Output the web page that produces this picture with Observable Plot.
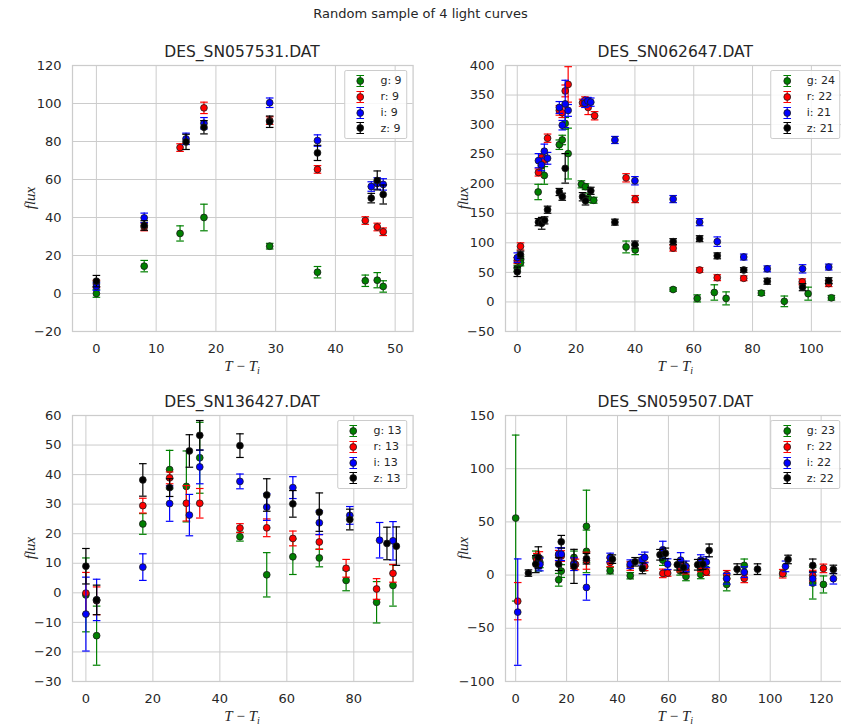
<!DOCTYPE html>
<html>
<head>
<meta charset="utf-8">
<script src="https://cdn.jsdelivr.net/npm/d3@7"></script>
<script src="https://cdn.jsdelivr.net/npm/@observablehq/plot@0.6"></script>
<style>
html, body { margin: 0; padding: 0; background: #fff; }
#fig { position: relative; width: 841px; height: 727px; overflow: hidden; font-family: "DejaVu Sans", sans-serif; color: #262626; background: #fff; }
.lbl { position: absolute; white-space: nowrap; line-height: 1; }
.legend { position: absolute; width: max-content; white-space: nowrap; background: rgba(255,255,255,0.85); border: 1px solid #cccccc; border-radius: 2px; padding: 1.8px 4.4px; box-sizing: border-box; }
.legend .row { display: flex; align-items: center; height: 15.9px; font-size: 11px; color: #262626; white-space: nowrap; }
.legend .row svg { display: block; margin-right: 8.8px; flex: none; }
.math { font-family: "Liberation Serif", "DejaVu Serif", serif; font-style: italic; font-size: 15px; color: #262626; }
</style>
</head>
<body>
<div id="fig"></div>
<script>
// ---------------- data: [T - Ti, flux, flux error] ----------------
const bandNames = ["g", "r", "i", "z"];
const bandColors = ["#008000", "#ff0000", "#0000ff", "#000000"];

// DES_SN057531.DAT
const sn057531_g = [[0,0,2],[8,14.4,3],[14,31.6,4],[18,40,7],[29,24.9,1.5],[37,11.2,3],[45,6.7,3],[47,7,4],[48,3.7,3]];
const sn057531_r = [[0,5,2],[8,35,2],[14,76.8,2],[18,97.7,3],[29,91,2],[37,65.3,2],[45,38.4,2],[47,35,2],[48,32.5,2]];
const sn057531_i = [[0,3.7,2],[8,39.8,2.5],[15,81.4,3],[18,89.6,3],[29,100.4,2.5],[37,80.5,3],[46,56.3,2.5],[47,57.9,3],[48,57.4,3]];
const sn057531_z = [[0,6.5,3],[8,35.8,2.5],[15,79.8,4],[18,87.5,3.5],[29,90.4,3],[37,74,4],[46,50.2,2.5],[47,59.5,5],[48,52.1,5]];

// DES_SN062647.DAT
const sn062647_g = [[0,57,5],[1.1,72,5],[1.1,66,5],[7.1,186,13],[8.2,230,10],[9.2,214,15],[14.3,266,8],[15.3,274,8],[16.3,302,10],[17.3,251,43],[21.8,199,6],[23.2,195,5],[24.1,176,8],[26,172,5],[37,93,10],[40.1,88,8],[53,21,3],[61.2,6,6],[67,16,13],[71,6,11],[83,15,4],[90.8,1,9],[98.9,14,11],[106.8,7,4]];
const sn062647_r = [[0,70,5],[1.1,94,6],[7.2,219,6],[8.2,244,7],[9.2,240,7],[10.3,277,7],[14.3,324,8],[15.3,320,8],[16.3,357,10],[17.3,368,30],[22.2,337,6],[23,341,6],[24.1,329,12],[26.3,315,7],[37,210,7],[40.1,174,6],[53,91,5],[62,54,4],[68,41,5],[77,40,4],[96.9,34,5],[105.9,31,5]];
const sn062647_i = [[0,75,8],[7.2,239,12],[8.2,232,10],[9.2,255,12],[10.3,243,10],[14.3,329,10],[15.3,299,8],[16.3,335,40],[17.3,324,10],[23,336,7],[24,340,6],[25,338,7],[33.2,274,6],[40,205,7],[53,174,6],[62,135,6],[68,102,8],[77,76,5],[85,56,5],[97,56,7],[105.9,59,5]];
const sn062647_z = [[0,51,8],[1.1,80,6],[7.2,135,6],[8.3,133,10],[9.3,138,6],[10.3,156,6],[14.3,186,6],[15.3,178,6],[16.3,226,25],[22.2,178,7],[23.2,171,7],[25,188,6],[33.2,135,5],[40,97,6],[53,102,5],[62,107,5],[68,78,5],[77,54,4],[85,35,5],[97,25,6],[105.9,36,5]];

// DES_SN136427.DAT
const sn136427_g = [[0,-0.7,12.5],[3.2,-14.5,10],[17,23.3,3.5],[25,41.7,6.5],[30,36,12],[34,45.7,12],[46,19,1.5],[54,6.1,7.5],[61.8,12.2,6],[69.7,11.8,3],[77.7,4.2,3.5],[86.8,-3.2,7],[91.7,2.5,7]];
const sn136427_r = [[0,-0.1,7],[3.2,-2.7,4.7],[17,29.5,2.5],[25,38.9,2],[30,30.3,6],[34,30.3,5],[46,21.9,1.5],[54,22,3],[61.8,18.4,2.5],[69.7,17.2,2.5],[77.7,8.3,3],[86.8,1.3,3.5],[91.7,6.6,3]];
const sn136427_i = [[0,-7.2,12.5],[3.2,-2.4,7],[17,8.7,4.5],[25,30.2,6],[30.9,26.3,7],[34,42.6,5.7],[46,37.7,2.5],[54,29,4.5],[61.8,35.6,3.7],[69.7,23.7,4],[78.8,26.2,3],[87.7,17.8,6],[91.7,17.6,6.5]];
const sn136427_z = [[0,9,6],[3.2,-2.4,5],[17,38.2,5.5],[25,35.6,3],[30.9,48,5.5],[34,53.3,5],[46,49.8,4],[54,33.1,5.5],[61.8,30.1,4.5],[69.7,27.3,6.5],[78.8,24.8,3.5],[89.9,16.7,5.5],[92.7,15.8,6.5]];

// DES_SN059507.DAT
const sn059507_g = [[0,53.6,78],[7.9,16.6,6],[8.9,8.8,5],[9.5,12,5],[16.9,-4.4,6],[17.9,3.8,6],[22.9,16.6,6],[27.8,22.3,20],[27.8,45.8,34],[37.1,4.1,3],[45,-0.6,3],[50.2,8,4],[57.8,14.1,5],[64.6,4,4],[65.5,6,4],[66.9,-1.3,4],[72.7,0.6,4],[74.5,4,4],[82.9,-8.8,6],[89.8,9.1,6],[105,2,3],[116.7,-7.5,15],[120.9,-8.8,8]];
const sn059507_r = [[0.8,-24.5,17.5],[8.3,14.4,6],[9.3,16,6],[16.9,18.2,5],[17.9,17.9,5],[22.9,11.3,5],[23.5,10,5],[27.8,13.5,8],[37.1,11.9,4],[45,8.5,4],[50.7,8.2,4],[57.8,1.6,4],[59.7,1.9,3],[64.6,7,4],[66.9,5,4],[72.7,7.2,4],[74.9,2.8,3],[82.9,0.3,4],[89.8,-3.1,4],[104.9,1.3,4],[116.7,-0.5,5],[120.9,6.3,4]];
const sn059507_i = [[0.8,-34.8,50],[8.9,11.9,6],[9.5,10,6],[16.9,19.7,6],[17.9,19.7,6],[22.9,10.3,6],[27.8,-11.6,12],[37.1,16.6,4],[45,10.3,4],[49.6,14.4,5],[50.7,16.6,5],[57.8,23.8,8],[59.7,10.3,5],[64.8,14.1,7],[66.9,8.2,5],[72.7,14.1,5],[74.9,12.2,5],[82.9,-3.4,5],[89.8,2.8,5],[106,8.2,5],[116.7,-3.4,6],[124.8,-3.4,5]];
const sn059507_z = [[5,1.9,3],[7.9,10.3,8],[8.9,16.6,10],[16.9,10.3,6],[17.9,31.3,6],[22.9,8.2,16],[27.8,15.4,5],[38,15,4],[46.9,12.5,4],[49.8,6.3,5],[56.7,19.1,5],[58.8,20.4,5],[63.5,9.7,5],[65.9,7.2,5],[71.5,9.7,5],[73.5,10.3,5],[76,23.2,6],[87,5.6,5],[95,5.6,5],[107,14.7,4],[116.7,9.1,6],[124.8,5.3,4]];

// tick labels
const p1XTicks = [0,10,20,30,40,50];
const p1YTicks = [-20,0,20,40,60,80,100,120];
const p2XTicks = [0,20,40,60,80,100];
const p2YTicks = [-50,0,50,100,150,200,250,300,350,400];
const p3XTicks = [0,20,40,60,80];
const p3YTicks = [-30,-20,-10,0,10,20,30,40,50,60];
const p4XTicks = [0,20,40,60,80,100,120];
const p4YTicks = [-100,-50,0,50,100,150];

const suptitle = "Random sample of 4 light curves";
const panelTitles = ["DES_SN057531.DAT", "DES_SN062647.DAT", "DES_SN136427.DAT", "DES_SN059507.DAT"];

// ---------------- layout ----------------
const W = 340.6, H = 266;
const mL = 50, mR = 2, mT = 2, mB = 30;
const panels = [
  {title: panelTitles[0], bands: [sn057531_g, sn057531_r, sn057531_i, sn057531_z], xTicks: p1XTicks, yTicks: p1YTicks, L: 71.7, T: 65},
  {title: panelTitles[1], bands: [sn062647_g, sn062647_r, sn062647_i, sn062647_z], xTicks: p2XTicks, yTicks: p2YTicks, L: 505, T: 65},
  {title: panelTitles[2], bands: [sn136427_g, sn136427_r, sn136427_i, sn136427_z], xTicks: p3XTicks, yTicks: p3YTicks, L: 71.7, T: 415},
  {title: panelTitles[3], bands: [sn059507_g, sn059507_r, sn059507_i, sn059507_z], xTicks: p4XTicks, yTicks: p4YTicks, L: 505, T: 415}
];

const fig = document.getElementById("fig");
const cap = {draw(ctx, size) { const w = Math.sqrt(size / Math.PI); ctx.moveTo(-w, 0); ctx.lineTo(w, 0); }};

function addLabel(html, cls, x, y, extra) {
  const d = document.createElement("div");
  d.className = "lbl " + (cls || "");
  d.innerHTML = html;
  d.style.left = x + "px";
  d.style.top = y + "px";
  d.style.transform = "translate(-50%,-50%)" + (extra || "");
  fig.appendChild(d);
  return d;
}

const st = addLabel(suptitle, "", 420.5, 12.5);
st.style.fontSize = "13px";

panels.forEach(p => {
  const allX = p.bands.flat().map(d => d[0]);
  const xDomain = [-4, d3.max(allX) + 5];
  const yDomain = d3.extent(p.yTicks);
  const marks = [
    Plot.ruleX(p.xTicks, {stroke: "#cccccc", strokeWidth: 1}),
    Plot.ruleY(p.yTicks, {stroke: "#cccccc", strokeWidth: 1}),
    Plot.frame({stroke: "#cccccc", strokeWidth: 1.25})
  ];
  p.bands.forEach((data, k) => {
    const col = bandColors[k];
    marks.push(Plot.ruleX(data, {x: d => d[0], y1: d => d[1] - d[2], y2: d => d[1] + d[2], stroke: col, strokeWidth: 1.2}));
    marks.push(Plot.dot(data, {x: d => d[0], y: d => d[1] + d[2], symbol: cap, r: 3.8, stroke: col, strokeWidth: 1.2, fill: "none"}));
    marks.push(Plot.dot(data, {x: d => d[0], y: d => d[1] - d[2], symbol: cap, r: 3.8, stroke: col, strokeWidth: 1.2, fill: "none"}));
    marks.push(Plot.dot(data, {x: d => d[0], y: d => d[1], r: 3.4, fill: col, stroke: "#1a1a1a", strokeWidth: 0.8}));
  });
  const svg = Plot.plot({
    width: W + mL + mR,
    height: H + mT + mB,
    marginLeft: mL, marginRight: mR, marginTop: mT, marginBottom: mB,
    x: {domain: xDomain, ticks: p.xTicks, tickSize: 0, tickPadding: 12, label: null},
    y: {domain: yDomain, ticks: p.yTicks, tickSize: 0, tickPadding: 11, label: null},
    style: {fontFamily: "DejaVu Sans, sans-serif", fontSize: "13px", color: "#262626", background: "transparent", maxWidth: "none", overflow: "visible", position: "absolute", left: (p.L - mL) + "px", top: (p.T - mT) + "px"},
    marks
  });
  fig.appendChild(svg);

  // title
  const t = addLabel(p.title, "", p.L + W / 2, p.T - 12);
  t.style.fontSize = "15.5px";
  // axis labels
  addLabel("flux", "math", p.L - 42, p.T + H / 2, " rotate(-90deg)");
  addLabel("T&thinsp;&minus;&thinsp;T<sub style=\"font-size:10px;vertical-align:-3px\">i</sub>", "math", p.L + W / 2, p.T + H + 36);

  // legend
  const lg = document.createElement("div");
  lg.className = "legend";
  lg.style.left = (p.L + W - 5.3) + "px";
  lg.style.top = (p.T + 5) + "px";
  lg.style.transform = "translateX(-100%)";
  p.bands.forEach((data, k) => {
    const col = bandColors[k];
    const row = document.createElement("div");
    row.className = "row";
    row.innerHTML = `<svg width="22" height="16" viewBox="0 0 22 16"><line x1="11" x2="11" y1="2.5" y2="13.5" stroke="${col}" stroke-width="1.2"/><line x1="7.2" x2="14.8" y1="2.5" y2="2.5" stroke="${col}" stroke-width="1.2"/><line x1="7.2" x2="14.8" y1="13.5" y2="13.5" stroke="${col}" stroke-width="1.2"/><circle cx="11" cy="8" r="3.4" fill="${col}" stroke="#1a1a1a" stroke-width="0.8"/></svg><span>${bandNames[k]}: ${data.length}</span>`;
    lg.appendChild(row);
  });
  fig.appendChild(lg);
});
</script>
</body>
</html>
